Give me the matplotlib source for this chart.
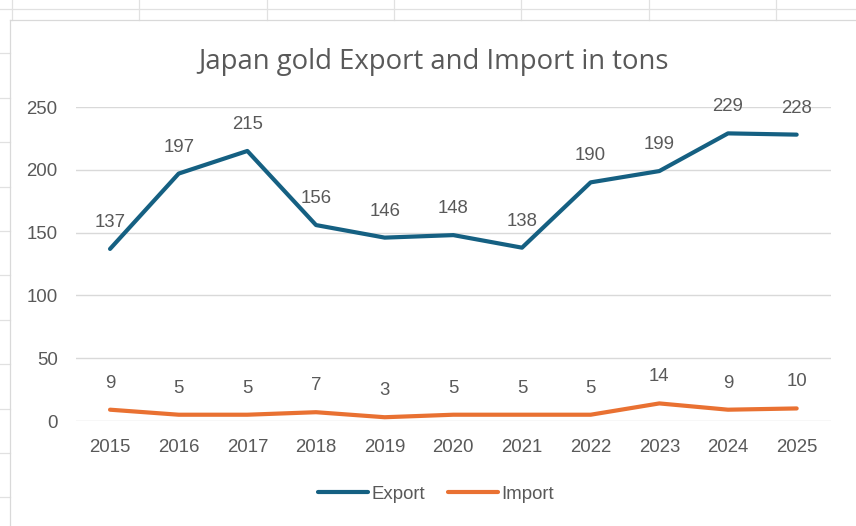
import matplotlib.pyplot as plt
from matplotlib.lines import Line2D

years = ['2015', '2016', '2017', '2018', '2019', '2020', '2021', '2022', '2023', '2024', '2025']
export_t = [137, 197, 215, 156, 146, 148, 138, 190, 199, 229, 228]
import_t = [9, 5, 5, 7, 3, 5, 5, 5, 14, 9, 10]

W, H = 856, 526
txt = '#595959'
fs = 13.4

fig = plt.figure(figsize=(W / 100, H / 100), dpi=100)
plt.rcParams['font.family'] = ['Liberation Sans', 'DejaVu Sans']


def px_line(xs, ys, color='#e1e1e1', lw=0.9):
    # pixel coordinates measured from the top-left corner
    fig.add_artist(Line2D([x / W for x in xs], [1 - y / H for y in ys],
                          transform=fig.transFigure, color=color, lw=lw))


# sheet grid peeking out around the chart object
px_line([0, W], [9, 9])
for k in range(7):
    x = 12 + 127.3 * k
    px_line([x, x], [0, 20])
for k in range(1, 12):
    y = 9 + 44.4 * k
    px_line([0, 10], [y, y])
# chart border
px_line([10, 10], [20, H], color='#d9d9d9')
px_line([10, W], [20, 20], color='#d9d9d9')

ax = fig.add_axes([75.7 / W, 1 - 421 / H, (831 - 75.7) / W, 314 / H])
x = list(range(len(years)))
l1, = ax.plot(x, export_t, color='#156082', lw=3, solid_joinstyle='round',
              solid_capstyle='round', label='Export')
l2, = ax.plot(x, import_t, color='#e97132', lw=3, solid_joinstyle='round',
              solid_capstyle='round', label='Import')

for xi, v in zip(x, export_t):
    ax.annotate(str(v), (xi, v), xytext=(0, 22), textcoords='offset pixels',
                ha='center', va='baseline', fontsize=fs, color=txt)
for xi, v in zip(x, import_t):
    ax.annotate(str(v), (xi, v), xytext=(0, 22), textcoords='offset pixels',
                ha='center', va='baseline', fontsize=fs, color=txt)

ax.set_xlim(-0.5, len(years) - 0.5)
ax.set_ylim(0, 250)
ax.set_yticks(range(0, 251, 50))
ax.set_xticks(x)
ax.set_xticklabels(years)
ax.tick_params(length=0, labelsize=fs, labelcolor=txt)
ax.tick_params(axis='x', pad=13)
ax.tick_params(axis='y', pad=13)
ax.grid(axis='y', color='#d9d9d9', lw=1)
ax.set_axisbelow(True)
for s in ax.spines.values():
    s.set_visible(False)
ax.patch.set_alpha(0)

fig.text(433 / W, 1 - 62 / H, 'Japan gold Export and Import in tons',
         ha='center', va='center', fontsize=19.8, color=txt, family='Open Sans')

fig.legend(handles=[l1, l2], loc='center', bbox_to_anchor=(436 / W, 1 - 494 / H),
           ncol=2, frameon=False, fontsize=fs, labelcolor=txt,
           handlelength=2.7, handletextpad=0.2, columnspacing=1.2)

fig.savefig('out.png', dpi=100, facecolor='white')
